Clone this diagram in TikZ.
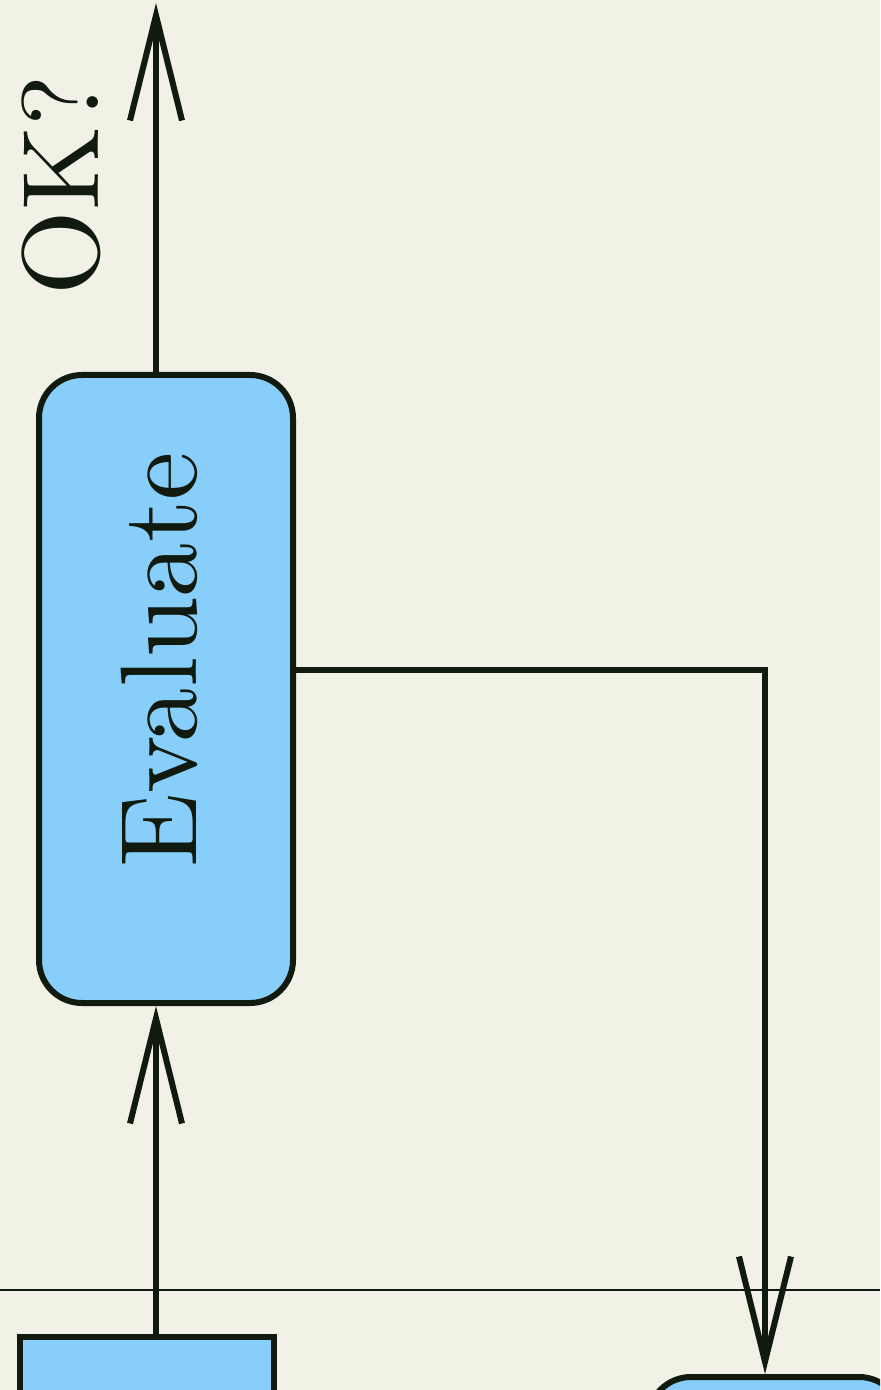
\documentclass[tikz,border=0pt]{standalone}
\usetikzlibrary{arrows.meta,positioning}
\definecolor{paper}{RGB}{241,241,230}
\definecolor{ink}{RGB}{16,26,14}
\definecolor{boxblue}{RGB}{135,206,250}

\begin{document}
\begin{tikzpicture}[x=0.25pt, y=-0.25pt,
    block/.style={draw=ink, fill=boxblue, line width=1.5pt, minimum width=63.5pt, inner sep=0pt},
    roundblock/.style={block, rounded corners=10.75pt},
    flow/.style={draw=ink, line width=1.5pt, -{Straight Barb[length=26.25pt,width=13pt]}},
    lbl/.style={rotate=90, scale=2.72, anchor=base, inner sep=0pt, text=ink, font=\fontsize{10}{12}\selectfont}]
    \useasboundingbox (0,0) rectangle (880,1390);
    \fill[paper] (0,0) rectangle (880,1390);
    \clip (0,0) rectangle (880,1390);

    % boxes
    \node[roundblock, minimum height=157pt] (evaluate) at (166,689) {};
    \node[lbl] (evaltext) at (196,660) {Evaluate};
    \node[block, minimum height=75pt, anchor=north] (prep) at (146.5,1334) {};
    \node[roundblock, minimum height=75pt, anchor=north] (update) at (775,1374) {};

    \coordinate (col) at (156,3);
    \coordinate (turn) at (765,670);

    % separator
    \draw[ink, line width=0.6pt] (0,1290) -- (880,1290);

    % connectors
    \draw[flow] (prep.north -| col) -- (evaluate.south -| col);
    \draw[flow] (evaluate.north -| col) -- (col);
    \node[lbl] (oktext) at (98,185) {OK?};
    \draw[flow] (evaluate.east |- turn) -- (turn) -- (turn |- update.north);
\end{tikzpicture}
\end{document}
